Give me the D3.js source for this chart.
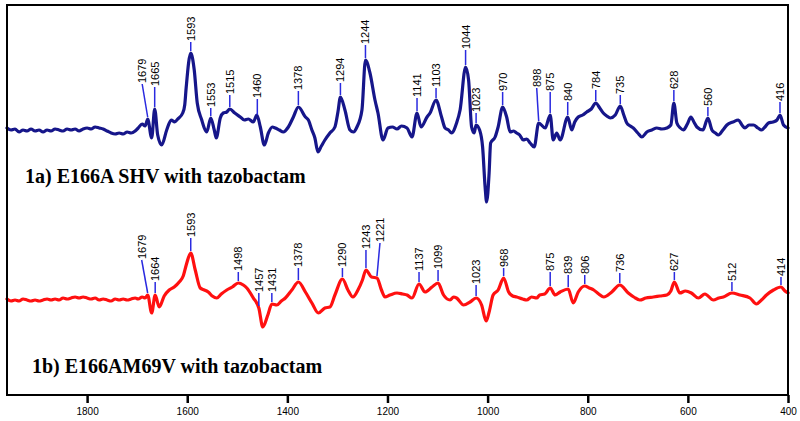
<!DOCTYPE html>
<html>
<head>
<meta charset="utf-8">
<script src="https://cdn.jsdelivr.net/npm/d3@7"></script>
<style>
  body { margin: 0; background: #fff; }
  svg { display: block; }
</style>
</head>
<body>
<svg></svg>
<script>
// ---------- DATA ----------
// 1a) E166A SHV with tazobactam — [wavenumber, difference intensity]
const shvSpectrum = [[1960,2],[1952,0],[1944,1],[1936,-2],[1928,0],[1920,-1],[1912,1],[1904,-1],[1896,0],[1888,-2],
  [1880,0],[1872,-1],[1864,1],[1856,0],[1848,-1],[1840,1],[1832,0],[1824,1],[1816,-1],[1808,1],
  [1800,2],[1792,1],[1784,3],[1776,2],[1768,1],[1760,-1],[1752,-3],[1744,-4],[1736,-3],[1728,-4],
  [1720,-2],[1712,-3],[1704,-1],[1698,2],[1690,6],[1684,4],[1679,11],[1671,-8],[1665,21],[1659,-5],
  [1651,-15],[1641,0],[1632,10],[1625,8],[1619,11],[1609,17],[1605,25],[1602,43],[1593,77],[1586,60],
  [1580,27],[1571,10],[1566,2],[1561,-2],[1553,12],[1546,0],[1542,-8],[1534,12],[1528,17],[1521,18],
  [1515,21],[1505,17],[1494,13],[1486,10],[1478,11],[1468,8],[1461,15],[1454,3],[1446,-15],[1438,-3],
  [1430,3],[1424,2],[1416,0],[1408,-2],[1398,3],[1388,13],[1378,23],[1364,13],[1358,10],[1351,0],
  [1345,-8],[1339,-22],[1332,-16],[1325,-10],[1315,-3],[1305,3],[1299,18],[1294,33],[1285,20],[1275,0],
  [1268,-2],[1261,3],[1251,20],[1244,70],[1235,57],[1225,30],[1219,17],[1209,-10],[1199,2],[1190,3],
  [1181,1],[1172,4],[1161,2],[1151,-7],[1141,17],[1133,3],[1121,13],[1115,17],[1103,30],[1092,13],
  [1085,2],[1078,0],[1072,-3],[1062,7],[1055,20],[1044,63],[1038,50],[1032,3],[1027,-3],[1023,5],
  [1016,0],[1010,-17],[1005,-57],[1002,-72],[997,-43],[994,-13],[985,-7],[979,3],[970,23],[962,13],
  [955,-2],[948,-1],[942,-3],[936,-5],[929,-10],[922,-9],[915,-13],[907,-17],[898,7],[885,2],
  [875,15],[869,-10],[862,-3],[855,-10],[840,13],[832,0],[826,8],[819,13],[810,15],[802,18],
  [793,21],[784,27],[776,22],[769,17],[762,14],[755,12],[745,15],[735,24],[728,15],[722,7],
  [715,4],[709,2],[700,-3],[692,-7],[682,-2],[672,0],[662,2],[652,1],[642,2],[634,5],
  [628,27],[622,7],[615,2],[609,0],[601,6],[594,13],[588,8],[582,3],[570,0],[560,12],
  [552,0],[545,-3],[539,-5],[530,0],[522,5],[510,8],[499,10],[492,5],[486,2],[478,5],
  [469,5],[460,2],[453,0],[446,3],[439,7],[430,8],[422,10],[416,15],[409,5],[400,2]];

// 1b) E166AM69V with tazobactam
const m69Spectrum = [[1960,1],[1952,-1],[1944,0],[1936,-1],[1928,1],[1920,0],[1912,-1],[1904,0],[1896,-1],[1888,0],
  [1880,1],[1872,0],[1864,1],[1856,0],[1848,2],[1840,1],[1832,2],[1824,3],[1816,2],[1808,3],
  [1800,2],[1792,1],[1784,2],[1776,0],[1768,1],[1760,0],[1752,-1],[1744,1],[1736,0],[1728,1],
  [1720,0],[1712,1],[1704,2],[1698,1],[1690,3],[1684,2],[1679,5],[1671,-13],[1664,5],[1656,-7],
  [1646,4],[1636,10],[1626,13],[1616,18],[1608,24],[1602,35],[1593,47],[1584,30],[1574,12],[1566,10],
  [1558,8],[1550,4],[1541,2],[1532,6],[1521,10],[1510,13],[1498,17],[1488,15],[1481,12],[1468,2],
  [1457,-8],[1449,-27],[1439,-15],[1431,-4],[1421,-5],[1412,-1],[1404,2],[1391,10],[1378,18],[1364,8],
  [1351,-3],[1338,-13],[1325,-8],[1315,-7],[1305,5],[1290,21],[1279,10],[1269,3],[1259,10],[1250,20],
  [1243,30],[1232,23],[1221,22],[1212,10],[1205,3],[1195,5],[1181,7],[1170,6],[1161,5],[1151,2],
  [1137,16],[1125,8],[1111,13],[1099,17],[1088,5],[1075,0],[1068,3],[1062,2],[1048,-5],[1035,-2],
  [1023,2],[1012,-5],[1003,-21],[997,-12],[989,5],[979,10],[968,22],[958,8],[950,4],[942,3],
  [930,1],[922,0],[912,3],[902,2],[896,5],[886,6],[875,12],[865,5],[855,8],[839,11],
  [829,-3],[819,8],[806,14],[797,12],[788,10],[778,6],[768,3],[752,8],[736,15],[719,7],
  [708,3],[696,0],[684,2],[669,3],[656,4],[642,5],[634,9],[627,18],[616,7],[605,9],
  [593,7],[579,2],[566,6],[549,0],[538,2],[529,3],[512,7],[496,5],[476,2],[463,-4],
  [453,0],[443,5],[429,10],[414,13],[406,9],[400,7]];

// peak labels and the intensity level where each label starts
const shvPeaks = [1679,1665,1593,1553,1515,1460,1378,1294,1244,1141,1103,1044,1023,970,898,875,840,784,735,628,560,416];
const shvLabelLevel = [46,43,88,22,35,31,39,47,85,32,42,80,17,38,42,38,28,40,35,40,23,28];
const m69Peaks = [1679,1664,1593,1498,1457,1431,1378,1290,1243,1221,1137,1099,1023,968,875,839,806,736,627,512,414];
const m69LabelLevel = [40,18,62,28,7,7,32,32,50,57,28,30,15,32,28,25,25,27,28,18,23];

const xTicks = [1800,1600,1400,1200,1000,800,600,400];
const titles = ["1a) E166A SHV with tazobactam", "1b) E166AM69V with tazobactam"];

// ---------- LAYOUT ----------
const W = 800, H = 421;
const frame = {left: 7, right: 788, top: 5, bottom: 395};

const svg = d3.select("svg").attr("width", W).attr("height", H);
svg.append("rect").attr("width", W).attr("height", H).attr("fill", "#fff");

const x = d3.scaleLinear().domain([1960, 400]).range([frame.left, frame.right]);
const y = d3.scaleLinear().domain([-265, 125]).range([frame.bottom, frame.top]);

// traces stacked with a vertical offset
const traces = [
  {data: shvSpectrum, offset: 0, color: "#16168a", peaks: shvPeaks, levels: shvLabelLevel,
   nudge: {1679: 11, 898: 4}, title: titles[0], tx: 25, ty: 183},
  {data: m69Spectrum, offset: -170, color: "#ff1010", peaks: m69Peaks, levels: m69LabelLevel,
   nudge: {1679: 12, 1221: -6}, title: titles[1], tx: 32, ty: 373}
];

// value of a trace at a given wavenumber (wn descending)
function valueAt(data, w) {
  for (let i = 0; i < data.length - 1; i++) {
    const [w0, v0] = data[i], [w1, v1] = data[i + 1];
    if (w <= w0 && w >= w1) return v0 + (w0 - w) / (w0 - w1) * (v1 - v0);
  }
  return 0;
}

const line = d3.line()
  .x(d => x(d[0]))
  .y(d => y(d[1]))
  .curve(d3.curveMonotoneX);

traces.forEach(t => {
  svg.append("path")
    .datum(t.data.map(d => [d[0], d[1] + t.offset]))
    .attr("fill", "none")
    .attr("stroke", t.color)
    .attr("stroke-width", 3.2)
    .attr("stroke-linejoin", "round")
    .attr("stroke-linecap", "round")
    .attr("d", line);

  // peak stems + labels
  const g = svg.append("g");
  t.peaks.forEach((p, i) => {
    const lw = p + (t.nudge[p] || 0);
    const yTop = y(t.levels[i] + t.offset);
    const yPeak = y(valueAt(t.data, p) + t.offset) - 2;
    g.append("line")
      .attr("x1", x(p)).attr("y1", yPeak)
      .attr("x2", x(lw)).attr("y2", yTop)
      .attr("stroke", "#2a2ae0")
      .attr("stroke-width", 1.5);
    g.append("text")
      .attr("transform", `translate(${x(lw)},${yTop - 1}) rotate(-90)`)
      .attr("dy", "0.36em")
      .attr("text-anchor", "start")
      .attr("font-family", "'Liberation Sans', Arial, sans-serif")
      .attr("font-size", 11)
      .attr("fill", "#000")
      .text(p);
  });

  svg.append("text")
    .attr("x", t.tx).attr("y", t.ty)
    .attr("font-family", "'Liberation Serif', 'Times New Roman', serif")
    .attr("font-weight", "bold")
    .attr("font-size", 20)
    .attr("fill", "#000")
    .text(t.title);
});

// ---------- FRAME & AXIS ----------
svg.append("rect")
  .attr("x", frame.left).attr("y", frame.top)
  .attr("width", frame.right - frame.left)
  .attr("height", frame.bottom - frame.top)
  .attr("fill", "none")
  .attr("stroke", "#000")
  .attr("stroke-width", 2);

const xAxis = d3.axisBottom(x)
  .tickValues(xTicks)
  .tickSize(8)
  .tickPadding(5)
  .tickFormat(d3.format("d"));

const ax = svg.append("g")
  .attr("transform", `translate(0,${frame.bottom})`)
  .call(xAxis);
ax.select(".domain").remove();
ax.selectAll(".tick line").attr("stroke", "#000").attr("stroke-width", 2.5);
ax.selectAll(".tick text")
  .attr("font-family", "'Liberation Sans', Arial, sans-serif")
  .attr("font-size", 10)
  .attr("fill", "#000");
</script>
</body>
</html>
